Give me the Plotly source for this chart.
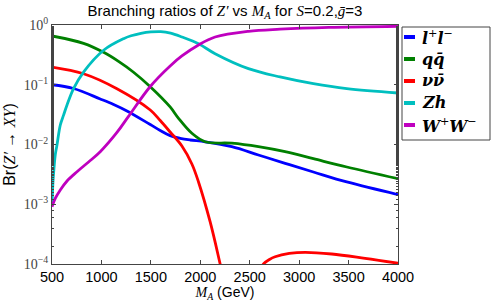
import plotly.graph_objects as go

# ---------------- data ----------------
mass_ll = [500, 718, 988, 1123, 1258, 1494, 1595, 1695, 1796, 1897, 2049, 2319, 2588, 2858, 3144, 3482, 4000]
br_ll = [0.100, 0.0865, 0.0578, 0.0467, 0.0364, 0.0216, 0.0172, 0.0141, 0.0127, 0.0119, 0.0111, 0.00918,
         0.00667, 0.00484, 0.00347, 0.00236, 0.00145]

mass_qq = [500, 819, 1022, 1173, 1325, 1494, 1695, 1780, 1915, 2049, 2319, 2588, 2858, 3144, 3482, 4000]
br_qq = [0.655, 0.494, 0.349, 0.246, 0.162, 0.0927, 0.0425, 0.0274, 0.0154, 0.0111, 0.0105, 0.00918,
         0.00757, 0.00578, 0.0042, 0.00268]

mass_nn = [500, 819, 1157, 1494, 1595, 1695, 1814, 1915, 1982, 2100, 2201, 2260, None,
           2590, 2639, 2700, 2757, 2900, 3060, 3330, 3667, 4000]
br_nn = [0.198, 0.153, 0.0859, 0.0378, 0.0252, 0.0162, 0.00944, 0.00472, 0.00236, 0.000505, 0.0001,
         0.000037, None, 0.000073, 0.0001, 0.000119, 0.000132, 0.000150, 0.000157, 0.000147, 0.000124,
         0.000103]

mass_zh = [500, 505, 510, 520, 533, 550, 584, 617, 652, 718, 819, 1022, 1224, 1300, 1400, 1500, 1600, 1700,
           1814, 1982, 2150, 2487, 2807, 3144, 3482, 4000]
br_zh = [0.0010, 0.0016, 0.0024, 0.0040, 0.0067, 0.0097, 0.0212, 0.031, 0.0458, 0.0859, 0.163, 0.378,
         0.590, 0.66, 0.725, 0.765, 0.775, 0.73, 0.63, 0.486, 0.331, 0.186, 0.135, 0.104, 0.0859, 0.0728]

mass_ww = [500, 533, 584, 652, 753, 870, 988, 1157, 1274, 1494, 1695, 1814, 1982, 2150, 2487, 2807, 3300, 4000]
br_ww = [0.00091, 0.00125, 0.00173, 0.00245, 0.0035, 0.0051, 0.00757, 0.0159, 0.0296, 0.0935, 0.206, 0.303,
         0.463, 0.63, 0.785, 0.85, 0.91, 0.95]

SERIF = "Liberation Serif"
SANS = "Liberation Sans"
LEGSERIF = "DejaVu Serif"


def m(s, fam=SERIF):
    return f'<span style="font-family:{fam}"><i>{s}</i></span>'


def lm(s):
    return m(f"<b>{s}</b>", LEGSERIF)


labels = [lm("l") + "<sup>+</sup>" + lm("l") + "<sup>\u2212</sup>",
          lm("q") + lm("q\u0304"),
          lm("\u03bd") + lm("\u03bd\u0304"),
          lm("Zh"),
          lm("W") + "<sup>+</sup>" + lm("W") + "<sup>\u2212</sup>"]
colors = ["#0000ff", "#008000", "#ff0000", "#00bfbf", "#bf00bf"]
series = [(mass_ll, br_ll), (mass_qq, br_qq), (mass_nn, br_nn), (mass_zh, br_zh), (mass_ww, br_ww)]

tick_vals = [1e-4, 1e-3, 1e-2, 1e-1, 1]
tick_text = ["10<sup>\u22124</sup>", "10<sup>\u22123</sup>", "10<sup>\u22122</sup>", "10<sup>\u22121</sup>",
             "10<sup>0</sup>"]
x_ticks = [500, 1000, 1500, 2000, 2500, 3000, 3500, 4000]

fig = go.Figure()
for (xs, ys), c, lab in zip(series, colors, labels):
    fig.add_trace(go.Scatter(x=xs, y=ys, mode="lines", name=lab,
                             line=dict(color=c, width=2.8, shape="spline", smoothing=1.0),
                             connectgaps=False, showlegend=False, hoverinfo="skip"))

W, H = 491, 302
L, R, T, B = 52, 398, 25, 264

fig.update_layout(
    width=W, height=H,
    margin=dict(l=L, r=W - R, t=T, b=H - B, autoexpand=False),
    paper_bgcolor="white", plot_bgcolor="white",
    font=dict(family=SANS, size=15, color="black"),
    title=dict(text="Branching ratios of " + m("Z\u2032") + " vs " + m("M<sub>A</sub>") + " for " + m("S")
               + "=0.2," + m("g\u0304") + "=3",
               x=(L + R) / 2 / W, xanchor="center", y=1 - 11 / H, yanchor="middle",
               font=dict(family=SANS, size=15)),
    xaxis=dict(range=[500, 4000], tickvals=x_ticks, ticks="inside", ticklen=4, mirror="ticks",
               showline=True, linecolor="#444", linewidth=1, showgrid=False, zeroline=False,
               tickfont=dict(family=SANS, size=14.5),
               title=dict(text=m("M<sub>A</sub>") + " (GeV)", standoff=3, font=dict(size=14))),
    yaxis=dict(type="log", range=[-4, 0], tickvals=tick_vals, ticktext=tick_text, ticks="inside",
               ticklen=4, mirror="ticks", showline=True, linecolor="#444", linewidth=1, showgrid=False,
               tickfont=dict(family=SERIF, size=14, color="#444"),
               minor=dict(ticks="inside", ticklen=2, showgrid=False, tickcolor="#444"),
               title=dict(text="Br(" + m("Z\u2032") + " \u2192 " + m("XY") + ")", standoff=4,
                          font=dict(size=16))),
)

# manual legend (short line swatches, as in the reference)
pw, ph = R - L, B - T


def px(xp):
    return (xp - L) / pw


def py(yp):
    return (B - yp) / ph


shapes = [dict(type="rect", xref="paper", yref="paper", x0=px(402), x1=px(490), y0=py(140), y1=py(27),
               line=dict(color="#444", width=1), fillcolor="white", layer="above")]
annotations = []
for i, (c, lab) in enumerate(zip(colors, labels)):
    yrow = 37 + 22 * i
    shapes.append(dict(type="line", xref="paper", yref="paper", x0=px(404), x1=px(415), y0=py(yrow),
                       y1=py(yrow), line=dict(color=c, width=4), layer="above"))
    annotations.append(dict(text=lab, xref="paper", yref="paper", x=px(420), y=py(yrow), xanchor="left",
                            yanchor="middle", showarrow=False,
                            font=dict(family=LEGSERIF, size=16, color="black")))
fig.update_layout(shapes=shapes, annotations=annotations)

fig.write_html("out.html", config={"displayModeBar": False},
               post_script="document.body.style.margin='0px';")
